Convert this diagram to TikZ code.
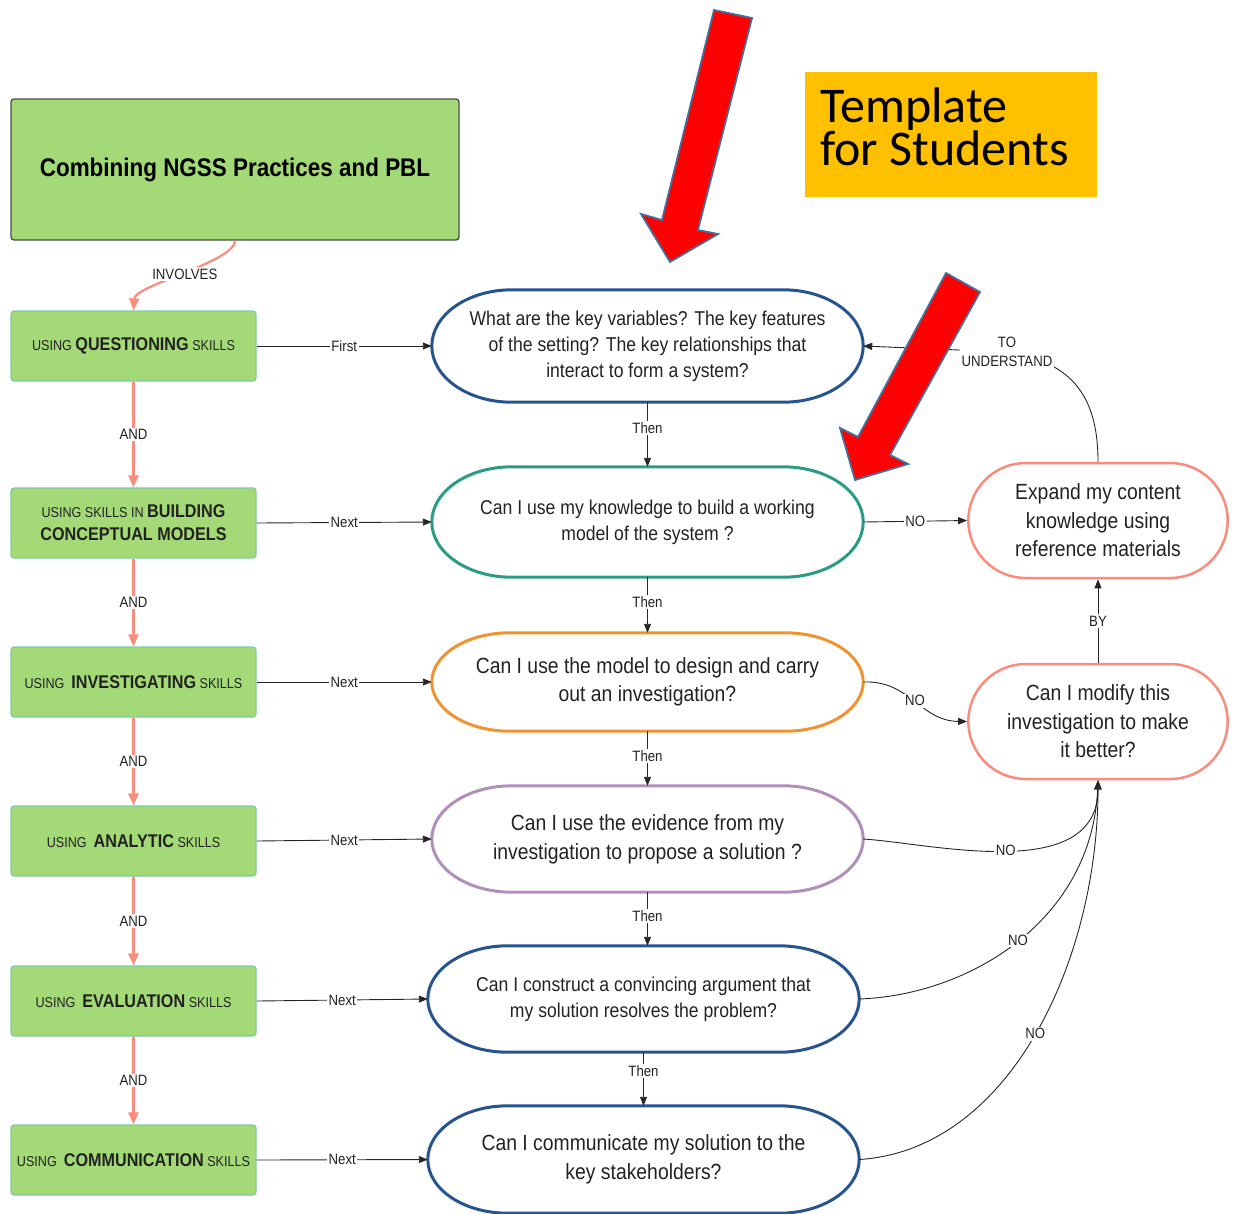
\documentclass[tikz,border=0pt]{standalone}
\usepackage{fontspec}
\setmainfont[FakeStretch=0.88]{Liberation Sans}
\newfontfamily\tmplfont{Carlito}
\usetikzlibrary{arrows.meta,shapes.misc,calc}

\definecolor{boxgreen}{HTML}{A3D977}
\definecolor{boxedge}{HTML}{7FC9A8}
\definecolor{salmon}{HTML}{FA8C7D}
\definecolor{qnavy}{HTML}{27548F}
\definecolor{qteal}{HTML}{2A9C86}
\definecolor{qorange}{HTML}{EF9230}
\definecolor{qpurple}{HTML}{B28FBB}
\definecolor{amber}{HTML}{FFC000}
\definecolor{arrowred}{HTML}{FF0000}
\definecolor{arrowedge}{HTML}{41719C}
\definecolor{ink}{HTML}{222222}

\newcommand\skillsm{\fontsize{14.3}{23}\selectfont}
\newcommand\skillbf{\fontsize{18.4}{23}\selectfont\bfseries}

% oval outline with elliptic ends around a (borderless) node
\newcommand\qoval[3]{%
  \draw[#2, line width=3pt] let \p1=(#1.north west), \p2=(#1.south east) in
    (\x1+#3pt,\y1) -- (\x2-#3pt,\y1)
    arc[start angle=90, end angle=-90, x radius=#3pt, y radius={(\y1-\y2)/2}]
    -- (\x1+#3pt,\y2)
    arc[start angle=270, end angle=90, x radius=#3pt, y radius={(\y1-\y2)/2}]
    -- cycle;}

\tikzset{
  titlebox/.style={rectangle, rounded corners=3pt, draw=black!70, line width=1.3pt,
    fill=boxgreen, minimum width=448pt, minimum height=141pt,
    font=\fontsize{25.5}{30}\selectfont\bfseries, text=black},
  skillbox/.style={rectangle, rounded corners=3pt, draw=boxedge, line width=1.2pt,
    fill=boxgreen, minimum width=245pt, minimum height=70pt, align=center, text=ink},
  qnode/.style={rectangle, draw=none, minimum width=431pt, align=center, text=ink, inner sep=0pt},
  refnode/.style={rounded rectangle, draw=salmon, line width=2.5pt, fill=white,
    minimum width=266pt, minimum height=115pt, align=center, text=ink,
    font=\fontsize{22}{28.5}\selectfont},
  lbl/.style={fill=white, inner sep=1.5pt, font=\fontsize{15}{16}\selectfont, text=ink},
  link/.style={draw=black!85, line width=0.9pt, -{Triangle[length=9pt,width=7pt]}},
  andlink/.style={draw=salmon, line width=2.5pt, -{Triangle[length=12pt,width=10pt]}},
  bigarrow/.style={fill=arrowred, draw=arrowedge, line width=1.8pt, line join=miter}
}

\begin{document}
\begin{tikzpicture}[x=1pt, y=-1pt]
\useasboundingbox (0,0) rectangle (1233,1213);

% title
\node[titlebox] (title) at (235,169.5) {Combining NGSS Practices and PBL};

% template banner
\node[fill=amber, minimum width=292pt, minimum height=125pt, inner sep=0pt] (tmpl) at (951,134.5) {};
\node[anchor=base west, inner sep=0pt, text=black, font=\tmplfont\fontsize{50}{50}\selectfont] (tmplA) at (820,122) {Template};
\node[anchor=base west, inner sep=0pt, text=black, font=\tmplfont\fontsize{50}{50}\selectfont] (tmplB) at (820,165) {for Students};

% skill boxes
\node[skillbox] (q)  at (133.5,346)  {{\skillsm USING }{\skillbf QUESTIONING}{\skillsm{} SKILLS}};
\node[skillbox, font=\fontsize{18.4}{23}\selectfont] (b)  at (133.5,523)
  {{\skillsm USING SKILLS IN }{\skillbf BUILDING}\\{\skillbf CONCEPTUAL MODELS}};
\node[skillbox] (i)  at (133.5,682)  {{\skillsm USING\ \ }{\skillbf INVESTIGATING}{\skillsm{} SKILLS}};
\node[skillbox] (a)  at (133.5,841)  {{\skillsm USING\ \ }{\skillbf ANALYTIC}{\skillsm{} SKILLS}};
\node[skillbox] (ev) at (133.5,1001) {{\skillsm USING\ \ }{\skillbf EVALUATION}{\skillsm{} SKILLS}};
\node[skillbox] (c)  at (133.5,1160) {{\skillsm USING\ \ }{\skillbf COMMUNICATION}{\skillsm{} SKILLS}};

% question nodes
\node[qnode, minimum height=112pt, font=\fontsize{20}{26}\selectfont] (e1) at (647.5,346)
  {What are the key variables? The key features\\of the setting? The key relationships that\\interact to form a system?};
\node[qnode, minimum height=110pt, font=\fontsize{20}{26}\selectfont] (e2) at (647.5,522)
  {Can I use my knowledge to build a working\\model of the system ?};
\node[qnode, minimum height=98pt, font=\fontsize{22}{28}\selectfont] (e3) at (647.5,682)
  {Can I use the model to design and carry\\out an investigation?};
\node[qnode, minimum height=106pt, font=\fontsize{22}{29}\selectfont] (e4) at (647.5,839)
  {Can I use the evidence from my\\investigation to propose a solution ?};
\node[qnode, minimum height=106pt, font=\fontsize{20}{26}\selectfont] (e5) at (643.5,999)
  {Can I construct a convincing argument that\\my solution resolves the problem?};
\node[qnode, minimum height=107pt, font=\fontsize{22}{29}\selectfont] (e6) at (643.5,1159.5)
  {Can I communicate my solution to the\\key stakeholders?};

\qoval{e1}{qnavy}{80}
\qoval{e2}{qteal}{80}
\qoval{e3}{qorange}{78}
\qoval{e4}{qpurple}{80}
\qoval{e5}{qnavy}{80}
\qoval{e6}{qnavy}{80}

% remedial nodes
\node[refnode] (r1) at (1098,520.5) {Expand my content\\knowledge using\\reference materials};
\node[refnode] (r2) at (1098,721.5) {Can I modify this\\investigation to make\\it better?};

% title to first skill
\draw[andlink, line width=2.2pt] (title.south) .. controls (235,262) and (135,285) .. node[lbl, pos=0.5] {INVOLVES} (q.north);

% skill chain
\draw[andlink] (q.south)  -- node[lbl] {AND} (b.north);
\draw[andlink] (b.south)  -- node[lbl] {AND} (i.north);
\draw[andlink] (i.south)  -- node[lbl] {AND} (a.north);
\draw[andlink] (a.south)  -- node[lbl] {AND} (ev.north);
\draw[andlink] (ev.south) -- node[lbl] {AND} (c.north);

% skills to questions
\draw[link] (q.east)  -- node[lbl] {First} (e1.west);
\draw[link] (b.east)  -- node[lbl] {Next} (e2.west);
\draw[link] (i.east)  -- node[lbl] {Next} (e3.west);
\draw[link] (a.east)  -- node[lbl] {Next} (e4.west);
\draw[link] (ev.east) -- node[lbl] {Next} (e5.west);
\draw[link] (c.east)  -- node[lbl] {Next} (e6.west);

% question sequence
\draw[link] (e1.south) -- node[lbl, pos=0.4] {Then} (e2.north);
\draw[link] (e2.south) -- node[lbl, pos=0.45] {Then} (e3.north);
\draw[link] (e3.south) -- node[lbl, pos=0.45] {Then} (e4.north);
\draw[link] (e4.south) -- node[lbl, pos=0.45] {Then} (e4.south |- e5.north);
\draw[link] (e5.south) -- node[lbl, pos=0.35] {Then} (e6.north);

% "no" branches
\draw[link] (e2.east) -- node[lbl] {NO} (r1.west);
\draw[link] (e3.east) .. controls (910,680) and (920,721) .. node[lbl, pos=0.5] {NO} (r2.west);
\draw[link] (e4.east) .. controls (930,843) and (1098,885) .. node[lbl, pos=0.5] {NO} (r2.south);
\draw[link] (e5.east) .. controls (970,995) and (1092,920) .. node[lbl, pos=0.5] {NO} (r2.south);
\draw[link] (e6.east) .. controls (1010,1150) and (1098,960) .. node[lbl, pos=0.5] {NO} (r2.south);

% remedial links
\draw[link] (r2.north) -- node[lbl] {BY} (r1.south);
\draw[link] (r1.north) .. controls (1098,400) and (1075,362) .. (1007,352)
  node[lbl, align=center, font=\fontsize{15}{18.5}\selectfont] (tu) {TO\\UNDERSTAND}
  -- (e1.east);

% pointer arrows
\draw[bigarrow] (714,10) -- (752,18) -- (698,230) -- (718,234) -- (670,262) -- (641,214) -- (662,220) -- cycle;
\draw[bigarrow] (946,273) -- (980,292) -- (890,455) -- (908,464) -- (855,480) -- (840,428) -- (858,437) -- cycle;
\end{tikzpicture}
\end{document}
